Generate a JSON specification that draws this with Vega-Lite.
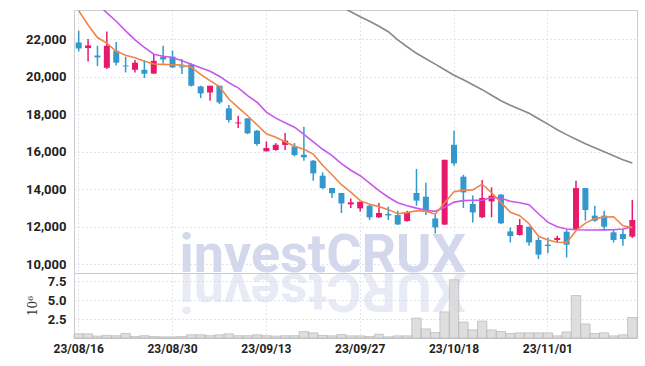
{
  "$schema": "https://vega.github.io/schema/vega-lite/v6.json",
  "padding": {"left": 25, "top": 9, "right": 10, "bottom": 5},
  "background": "white",
  "spacing": 0,
  "bounds": "flush",
  "data": {"values": [
    {"d":"23/08/16","o":21820,"h":22440,"l":21340,"c":21500,"v":0.55,"ma5":23510,"ma20":24800,"ma60":null},
    {"d":"23/08/17","o":21520,"h":22000,"l":20800,"c":21660,"v":0.55,"ma5":22750,"ma20":24350,"ma60":null},
    {"d":"23/08/18","o":21120,"h":21640,"l":20560,"c":21020,"v":0.25,"ma5":22080,"ma20":23870,"ma60":null},
    {"d":"23/08/21","o":20470,"h":22400,"l":20400,"c":21640,"v":0.35,"ma5":21780,"ma20":23400,"ma60":null},
    {"d":"23/08/22","o":21380,"h":21840,"l":20590,"c":20740,"v":0.3,"ma5":21350,"ma20":22950,"ma60":null},
    {"d":"23/08/23","o":20590,"h":21060,"l":20220,"c":20540,"v":0.6,"ma5":21140,"ma20":22440,"ma60":null},
    {"d":"23/08/24","o":20360,"h":20880,"l":20220,"c":20740,"v":0.2,"ma5":21000,"ma20":21960,"ma60":null},
    {"d":"23/08/25","o":20360,"h":20880,"l":19920,"c":20150,"v":0.3,"ma5":20820,"ma20":21560,"ma60":null},
    {"d":"23/08/28","o":20160,"h":21200,"l":20130,"c":20840,"v":0.2,"ma5":20670,"ma20":21190,"ma60":null},
    {"d":"23/08/29","o":21060,"h":21640,"l":20700,"c":20910,"v":0.15,"ma5":20650,"ma20":21080,"ma60":null},
    {"d":"23/08/30","o":21060,"h":21380,"l":20450,"c":20490,"v":0.15,"ma5":20630,"ma20":21020,"ma60":null},
    {"d":"23/08/31","o":20540,"h":20930,"l":20130,"c":20490,"v":0.2,"ma5":20610,"ma20":20840,"ma60":null},
    {"d":"23/09/01","o":20650,"h":20700,"l":19470,"c":19510,"v":0.42,"ma5":20500,"ma20":20660,"ma60":null},
    {"d":"23/09/04","o":19470,"h":19510,"l":18850,"c":19100,"v":0.42,"ma5":20120,"ma20":20470,"ma60":null},
    {"d":"23/09/05","o":19150,"h":19510,"l":18710,"c":19510,"v":0.3,"ma5":19780,"ma20":20280,"ma60":null},
    {"d":"23/09/06","o":19510,"h":19510,"l":18530,"c":18620,"v":0.42,"ma5":19460,"ma20":20020,"ma60":null},
    {"d":"23/09/07","o":18300,"h":18480,"l":17550,"c":17680,"v":0.55,"ma5":18800,"ma20":19670,"ma60":null},
    {"d":"23/09/08","o":17500,"h":17910,"l":17250,"c":17550,"v":0.3,"ma5":18340,"ma20":19400,"ma60":null},
    {"d":"23/09/11","o":17770,"h":17770,"l":16930,"c":16970,"v":0.3,"ma5":17910,"ma20":18980,"ma60":null},
    {"d":"23/09/12","o":17110,"h":17150,"l":16310,"c":16400,"v":0.42,"ma5":17430,"ma20":18630,"ma60":null},
    {"d":"23/09/13","o":16010,"h":16540,"l":16010,"c":16190,"v":0.3,"ma5":16950,"ma20":18100,"ma60":null},
    {"d":"23/09/14","o":16080,"h":16450,"l":16040,"c":16360,"v":0.25,"ma5":16760,"ma20":17780,"ma60":null},
    {"d":"23/09/15","o":16350,"h":16990,"l":16080,"c":16580,"v":0.3,"ma5":16520,"ma20":17540,"ma60":null},
    {"d":"23/09/18","o":16270,"h":16450,"l":15740,"c":15810,"v":0.3,"ma5":16280,"ma20":17300,"ma60":null},
    {"d":"23/09/19","o":15830,"h":17320,"l":15510,"c":15690,"v":0.85,"ma5":16120,"ma20":16920,"ma60":24790},
    {"d":"23/09/20","o":15510,"h":15550,"l":14440,"c":14830,"v":0.68,"ma5":15860,"ma20":16520,"ma60":24520},
    {"d":"23/09/21","o":14710,"h":14890,"l":14000,"c":14050,"v":0.33,"ma5":15270,"ma20":16120,"ma60":24260},
    {"d":"23/09/22","o":14050,"h":14050,"l":13520,"c":13770,"v":0.28,"ma5":14760,"ma20":15780,"ma60":23990},
    {"d":"23/09/25","o":13790,"h":13790,"l":12720,"c":13230,"v":0.45,"ma5":14230,"ma20":15350,"ma60":23720},
    {"d":"23/09/26","o":13180,"h":13500,"l":12990,"c":13290,"v":0.28,"ma5":13830,"ma20":15000,"ma60":23460},
    {"d":"23/09/27","o":12970,"h":13320,"l":12800,"c":13320,"v":0.28,"ma5":13380,"ma20":14710,"ma60":23190},
    {"d":"23/10/04","o":13110,"h":13150,"l":12350,"c":12490,"v":0.2,"ma5":13190,"ma20":14310,"ma60":22950},
    {"d":"23/10/05","o":12490,"h":13250,"l":12450,"c":12720,"v":0.5,"ma5":13060,"ma20":13910,"ma60":22680},
    {"d":"23/10/06","o":12670,"h":13060,"l":12350,"c":12590,"v":0.15,"ma5":12900,"ma20":13560,"ma60":22390},
    {"d":"23/10/10","o":12610,"h":12840,"l":12080,"c":12110,"v":0.28,"ma5":12680,"ma20":13270,"ma60":21960},
    {"d":"23/10/11","o":12290,"h":12840,"l":12270,"c":12740,"v":0.28,"ma5":12740,"ma20":13110,"ma60":21590},
    {"d":"23/10/12","o":13790,"h":15070,"l":13110,"c":13380,"v":2.63,"ma5":12840,"ma20":12980,"ma60":21240},
    {"d":"23/10/13","o":13590,"h":14340,"l":12610,"c":12810,"v":1.2,"ma5":12820,"ma20":12870,"ma60":20950},
    {"d":"23/10/16","o":12430,"h":12670,"l":11630,"c":11950,"v":0.72,"ma5":12660,"ma20":12810,"ma60":20660},
    {"d":"23/10/17","o":12100,"h":15560,"l":12100,"c":15560,"v":3.45,"ma5":13270,"ma20":13030,"ma60":20360},
    {"d":"23/10/18","o":16360,"h":17110,"l":15240,"c":15370,"v":7.7,"ma5":13860,"ma20":13300,"ma60":20070},
    {"d":"23/10/19","o":14660,"h":14760,"l":12990,"c":13820,"v":2.1,"ma5":13940,"ma20":13380,"ma60":19830},
    {"d":"23/10/20","o":13200,"h":13660,"l":12220,"c":12750,"v":1.07,"ma5":13950,"ma20":13400,"ma60":19560},
    {"d":"23/10/23","o":12490,"h":14480,"l":12450,"c":13520,"v":2.24,"ma5":14260,"ma20":13400,"ma60":19300},
    {"d":"23/10/24","o":13340,"h":14090,"l":12490,"c":13640,"v":1.07,"ma5":13800,"ma20":13550,"ma60":19000},
    {"d":"23/10/25","o":13700,"h":13730,"l":12130,"c":12170,"v":0.85,"ma5":13290,"ma20":13510,"ma60":18710},
    {"d":"23/10/26","o":11740,"h":11950,"l":11150,"c":11490,"v":0.59,"ma5":12760,"ma20":13350,"ma60":18470},
    {"d":"23/10/27","o":11550,"h":12400,"l":11510,"c":12080,"v":0.68,"ma5":12580,"ma20":13270,"ma60":18260},
    {"d":"23/10/30","o":11990,"h":11990,"l":10980,"c":11150,"v":0.68,"ma5":12150,"ma20":13160,"ma60":18040},
    {"d":"23/10/31","o":11280,"h":11420,"l":10270,"c":10500,"v":0.68,"ma5":11480,"ma20":12680,"ma60":17750},
    {"d":"23/11/01","o":11030,"h":11420,"l":10570,"c":10960,"v":0.68,"ma5":11280,"ma20":12230,"ma60":17460},
    {"d":"23/11/02","o":11280,"h":11510,"l":11150,"c":11390,"v":0.28,"ma5":11160,"ma20":11990,"ma60":17160},
    {"d":"23/11/03","o":11720,"h":11830,"l":10350,"c":11030,"v":0.8,"ma5":11140,"ma20":11870,"ma60":16900},
    {"d":"23/11/06","o":11870,"h":14440,"l":11810,"c":14050,"v":5.62,"ma5":11780,"ma20":11830,"ma60":16660},
    {"d":"23/11/07","o":14050,"h":14050,"l":12310,"c":12880,"v":1.85,"ma5":12180,"ma20":11810,"ma60":16420},
    {"d":"23/11/08","o":12580,"h":13110,"l":12260,"c":12310,"v":0.59,"ma5":12420,"ma20":11810,"ma60":16200},
    {"d":"23/11/09","o":12580,"h":12840,"l":11780,"c":11990,"v":0.68,"ma5":12500,"ma20":11820,"ma60":15990},
    {"d":"23/11/10","o":11690,"h":11810,"l":11150,"c":11280,"v":0.28,"ma5":12520,"ma20":11830,"ma60":15780},
    {"d":"23/11/13","o":11600,"h":11870,"l":10980,"c":11330,"v":0.42,"ma5":12040,"ma20":11870,"ma60":15560},
    {"d":"23/11/14","o":11460,"h":13410,"l":11390,"c":12350,"v":2.71,"ma5":11940,"ma20":11990,"ma60":15390}
  ]},
  "config": {
    "view": {"stroke": "#cccccc", "strokeWidth": 1},
    "concat": {"spacing": 0},
    "axis": {
      "labelFont": "Roboto",
      "labelFontWeight": "bold",
      "labelFontSize": 13,
      "labelColor": "#222222",
      "ticks": false,
      "tickSize": 0,
      "domain": false,
      "gridColor": "#c5c9dc",
      "gridDash": [1, 3],
      "gridWidth": 1,
      "labelPadding": 8
    }
  },
  "vconcat": [
    {
      "width": 563,
      "height": 263,
      "encoding": {
        "x": {
          "field": "d", "type": "ordinal", "sort": "ascending",
          "scale": {"paddingInner": 0, "paddingOuter": 0},
          "axis": {"values": ["23/08/16","23/08/30","23/09/13","23/09/27","23/10/18","23/11/01"], "labels": false, "grid": true, "bandPosition": 0.5, "title": null}
        },
        "y": {"type": "quantitative", "scale": {"domain": [9520, 23550], "nice": false, "zero": false},
          "axis": {"values": [10000, 12000, 14000, 16000, 18000, 20000, 22000], "format": ",.0f", "title": null, "grid": true}}
      },
      "layer": [
        {
          "transform": [{"filter": "datum.d == '23/09/21'"}],
          "mark": {"type": "text", "text": "investCRUX", "font": "Roboto", "fontWeight": "bold", "fontSize": 54, "color": "#d3d8ec", "align": "center", "baseline": "alphabetic", "clip": false},
          "encoding": {"y": {"datum": 9590}}
        },
        {
          "mark": {"type": "rule", "strokeWidth": 1.5},
          "encoding": {
            "y": {"field": "l"},
            "y2": {"field": "h"},
            "color": {"condition": {"test": "datum.c > datum.o", "value": "#e8196b"}, "value": "#3399cc"}
          }
        },
        {
          "mark": {"type": "bar", "size": 6},
          "encoding": {
            "y": {"field": "o"},
            "y2": {"field": "c"},
            "color": {"condition": {"test": "datum.c > datum.o", "value": "#e8196b"}, "value": "#3399cc"}
          }
        },
        {
          "mark": {"type": "line", "color": "#888888", "strokeWidth": 1.6, "clip": true},
          "encoding": {"y": {"field": "ma60"}}
        },
        {
          "mark": {"type": "line", "color": "#c857ee", "strokeWidth": 1.6, "clip": true},
          "encoding": {"y": {"field": "ma20"}}
        },
        {
          "mark": {"type": "line", "color": "#f0844a", "strokeWidth": 1.6, "clip": true},
          "encoding": {"y": {"field": "ma5"}}
        }
      ]
    },
    {
      "width": 563,
      "height": 65,
      "encoding": {
        "x": {
          "field": "d", "type": "ordinal", "sort": "ascending",
          "scale": {"paddingInner": 0, "paddingOuter": 0},
          "axis": {"values": ["23/08/16","23/08/30","23/09/13","23/09/27","23/10/18","23/11/01"], "labelAngle": 0, "labelPadding": 5, "labelFontSize": 12, "grid": true, "bandPosition": 0.5, "title": null}
        },
        "y": {"type": "quantitative", "scale": {"domain": [0, 8.6], "nice": false},
          "axis": {"values": [2.5, 5, 7.5], "format": ".1f", "title": "10⁶", "titleFont": "DejaVu Serif", "titleFontWeight": "normal", "titleFontSize": 12, "titleColor": "#333333", "titlePadding": 8, "grid": true}}
      },
      "layer": [
        {
          "transform": [{"filter": "datum.d == '23/09/21'"}],
          "mark": {"type": "text", "text": "XURCtsevni", "font": "Roboto", "fontWeight": "bold", "fontSize": 54, "color": "#d3d8ec", "opacity": 0.5, "angle": 180, "align": "center", "baseline": "alphabetic", "clip": false},
          "encoding": {"y": {"datum": 8.45}}
        },
        {
          "mark": {"type": "bar", "fill": "#d9d9d9", "stroke": "#b3b3b3", "strokeWidth": 0.8, "opacity": 0.85},
          "encoding": {"y": {"field": "v"}}
        }
      ]
    }
  ]
}
